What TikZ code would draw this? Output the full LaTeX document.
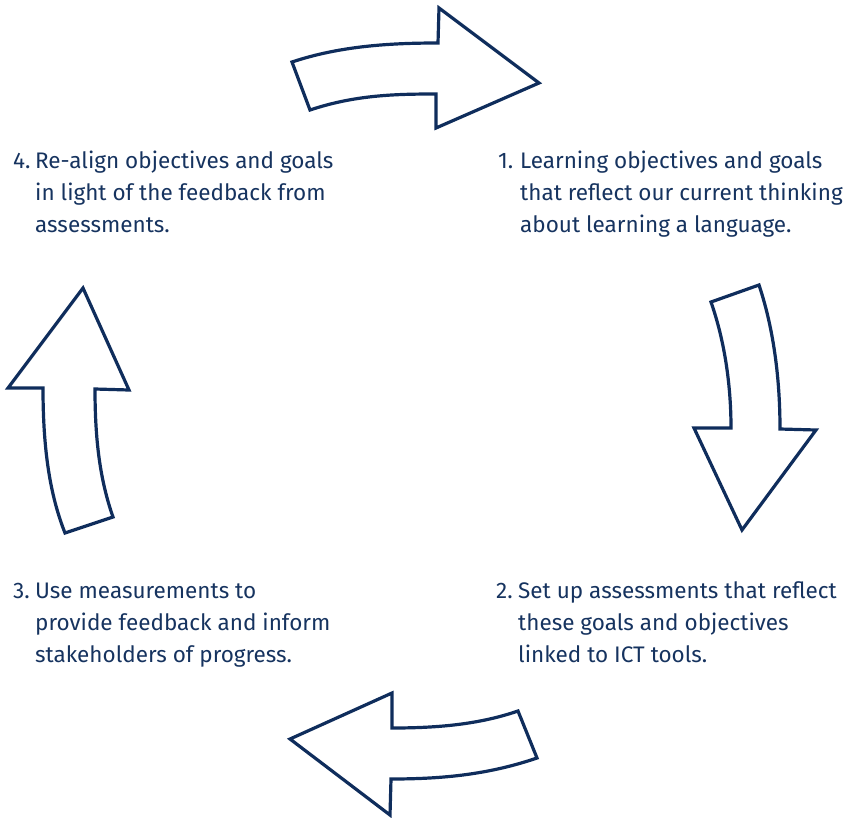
\documentclass[tikz,border=0pt]{standalone}
\usepackage{fontspec}
\setmainfont{Fira Sans}
\usepackage{array}
\definecolor{navy}{HTML}{0F2D5C}
\definecolor{textnavy}{HTML}{16335F}
\newcommand\steptext[2]{\begin{tabular}[t]{@{}p{22pt}@{}l@{}}#1\end{tabular}}
\begin{document}
\begin{tikzpicture}[x=1pt,y=-1pt,
  bigarrow/.style={draw=navy,line width=3.2pt,fill=white,line join=miter,miter limit=10},
  label/.style={anchor=base west,inner sep=0pt,text=textnavy,font=\fontsize{22.5}{32}\selectfont}]
\useasboundingbox (0,0) rectangle (849,817);
% top arrow (pointing right)
\draw[bigarrow] (292,62) .. controls (340,46) and (390,43) .. (438,43)
  -- (439,8) -- (539,83) -- (436,128) -- (436,94)
  .. controls (395,94) and (355,95) .. (310,110) -- cycle;
% right arrow (pointing down)
\draw[bigarrow] (711,302) -- (759,285)
  .. controls (774,330) and (780,380) .. (780,429)
  -- (816,430) -- (742,530) -- (694,428) -- (731,428)
  .. controls (731,390) and (726,345) .. (711,302) -- cycle;
% bottom arrow (pointing left)
\draw[bigarrow] (518,711) -- (537,758)
  .. controls (490,774) and (445,779) .. (391,779)
  -- (390,815) -- (290,739) -- (392,693) -- (392,728)
  .. controls (440,728) and (480,724) .. (518,711) -- cycle;
% left arrow (pointing up)
\draw[bigarrow] (65,533) -- (113,517)
  .. controls (100,480) and (95,440) .. (95,389)
  -- (129,390) -- (83,288) -- (8,388) -- (43,388)
  .. controls (43,450) and (50,495) .. (65,533) -- cycle;
% texts
\node[label] (t1) at (498,168.3) {\steptext{1. & Learning objectives and goals\\ & that reflect our current thinking\\ & about learning a language.}{}};
\node[label] (t2) at (496,598.3) {\steptext{2. & Set up assessments that reflect\\ & these goals and objectives\\ & linked to ICT tools.}{}};
\node[label] (t3) at (13,598.3) {\steptext{3. & Use measurements to\\ & provide feedback and inform\\ & stakeholders of progress.}{}};
\node[label] (t4) at (13,168.3) {\steptext{4. & Re-align objectives and goals\\ & in light of the feedback from\\ & assessments.}{}};
\end{tikzpicture}
\end{document}
